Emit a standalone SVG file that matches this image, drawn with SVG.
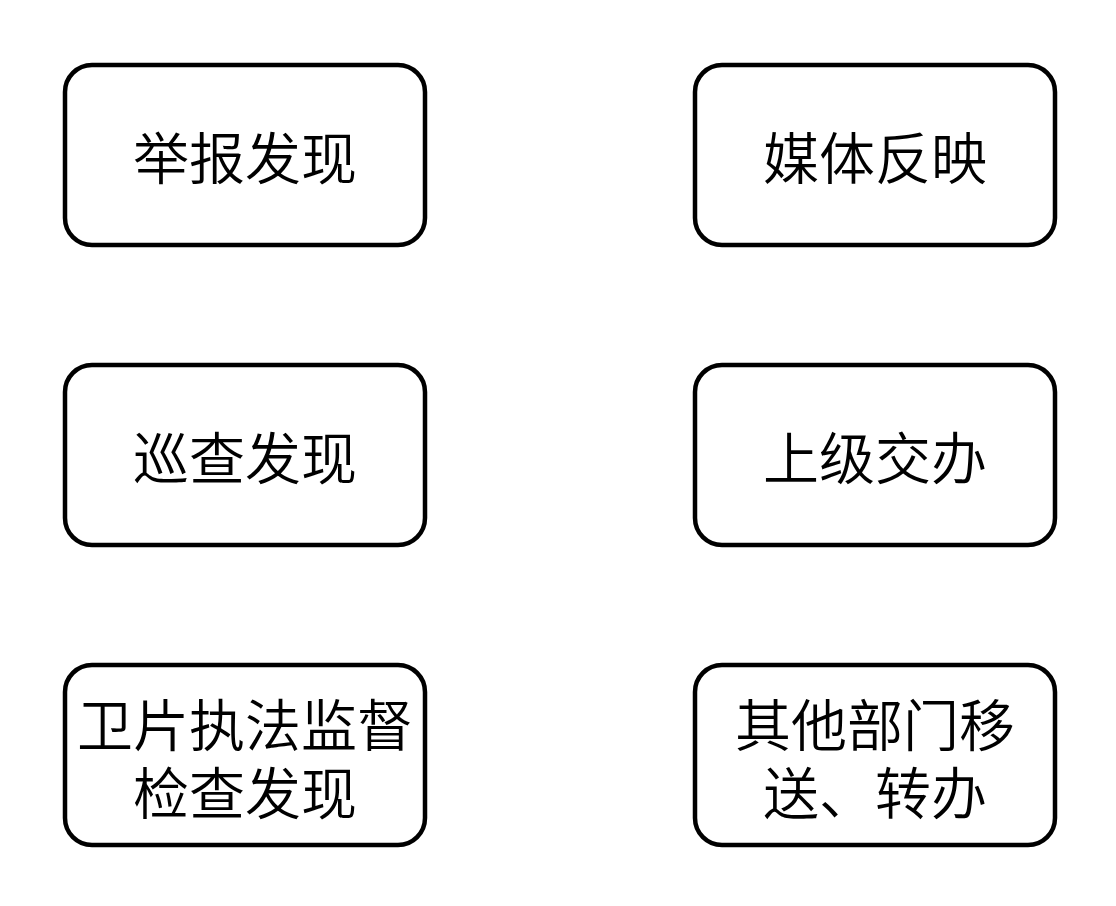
<svg xmlns="http://www.w3.org/2000/svg" width="1116" height="906" viewBox="0 0 1116 906">
<style>
.box{fill:#fff;stroke:#000;stroke-width:4.5}
.t{font-family:"Noto Sans CJK SC","Noto Sans",sans-serif;font-size:56px;font-weight:350;fill:#000;text-anchor:middle;dominant-baseline:central}
</style>
<rect width="1116" height="906" fill="#fff"/>
<g id="connectors"></g>
<g id="n1"><rect class="box" x="65" y="65" width="360" height="180" rx="27"/><text class="t" x="245" y="154">举报发现</text></g>
<g id="n2"><rect class="box" x="695" y="65" width="360" height="180" rx="27"/><text class="t" x="875" y="154">媒体反映</text></g>
<g id="n3"><rect class="box" x="65" y="365" width="360" height="180" rx="27"/><text class="t" x="245" y="454">巡查发现</text></g>
<g id="n4"><rect class="box" x="695" y="365" width="360" height="180" rx="27"/><text class="t" x="875" y="454">上级交办</text></g>
<g id="n5"><rect class="box" x="65" y="665" width="360" height="180" rx="27"/><text class="t"><tspan x="245" y="721">卫片执法监督</tspan><tspan x="245" y="789">检查发现</tspan></text></g>
<g id="n6"><rect class="box" x="695" y="665" width="360" height="180" rx="27"/><text class="t"><tspan x="875" y="721">其他部门移</tspan><tspan x="875" y="789">送、转办</tspan></text></g>
</svg>
